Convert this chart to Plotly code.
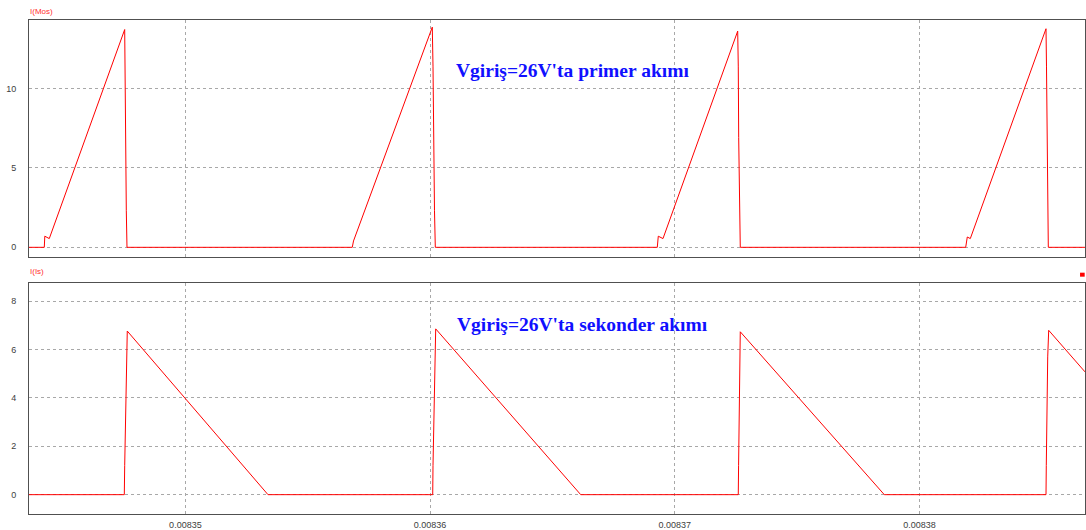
import plotly.graph_objects as go

# ---- data (time in seconds, current in A) ----
t_primary = [0.008343608, 0.008344233, 0.008344254, 0.008344437, 0.008347519, 0.008347531,
             0.008347544, 0.008347585, 0.008347613,
             0.008356821, 0.008356871, 0.008360091, 0.008360120, 0.008360140, 0.008360181,
             0.008360214,
             0.008369287, 0.008369328, 0.008369520, 0.008372573, 0.008372597, 0.008372614,
             0.008372655, 0.008372679,
             0.008381892, 0.008381957, 0.008382080, 0.008385174, 0.008385194, 0.008385215,
             0.008385256, 0.008385268, 0.008386768]
i_primary = [0, 0, 0.7, 0.55, 13.7, 11.4,
             6.9, 2.3, 0,
             0, 0.4, 13.85, 11.4, 6.9, 2.3,
             0,
             0, 0.7, 0.55, 13.6, 11.4, 6.9,
             2.3, 0,
             0, 0.65, 0.55, 13.75, 11.4, 6.9,
             2.3, 0, 0]

t_secondary = [0.008343608, 0.008347503, 0.008347519, 0.008347560, 0.008347593, 0.008347625,
               0.008353376,
               0.008360108, 0.008360120, 0.008360153, 0.008360189, 0.008360230, 0.008366157,
               0.008372597, 0.008372610, 0.008372634, 0.008372659, 0.008372679, 0.008378565,
               0.008385174, 0.008385186, 0.008385207, 0.008385244, 0.008385284, 0.008386768]
i_secondary = [0, 0, 1.2, 3.5, 5.7, 6.77,
               0,
               0, 1.2, 3.5, 5.7, 6.86, 0,
               0, 1.2, 3.5, 5.7, 6.74, 0,
               0, 1.2, 3.5, 5.7, 6.8, 5.08]

x_ticks = [0.00835, 0.00836, 0.00837, 0.00838]
x_tick_labels = ["0.00835", "0.00836", "0.00837", "0.00838"]
y1_ticks = [0, 5, 10]
y2_ticks = [0, 2, 4, 6, 8]

x_range = [0.008343608, 0.008386768]
y1_range = [-0.61, 14.3]
y2_range = [-0.80, 8.77]

title_top = "Vgiriş=26V'ta primer akımı"
title_bottom = "Vgiriş=26V'ta sekonder akımı"
label_top = "I(Mos)"
label_bottom = "I(Is)"

RED = "#ff0000"
GRID = "#a8a8a8"
FRAME = "#505050"
TICKFONT = dict(family="Liberation Sans, Arial, sans-serif", size=9, color="#404040")

fig = go.Figure()
fig.add_trace(go.Scatter(x=t_primary, y=i_primary, mode="lines",
                         line=dict(color=RED, width=1), xaxis="x", yaxis="y",
                         showlegend=False, hoverinfo="skip"))
fig.add_trace(go.Scatter(x=t_secondary, y=i_secondary, mode="lines",
                         line=dict(color=RED, width=1), xaxis="x2", yaxis="y2",
                         showlegend=False, hoverinfo="skip"))

axis_common = dict(showline=True, mirror=True, linecolor=FRAME, linewidth=1,
                   showgrid=True, gridcolor=GRID, griddash="3px,3px", gridwidth=1,
                   zeroline=False, ticks="", tickfont=TICKFONT)

fig.update_layout(
    width=1086, height=530,
    margin=dict(l=29, r=1, t=20, b=16),
    paper_bgcolor="white", plot_bgcolor="white",
    showlegend=False,
    xaxis=dict(domain=[0, 1], anchor="y", range=x_range, tickvals=x_ticks,
               showticklabels=False, **axis_common),
    yaxis=dict(domain=[0.5202, 1], anchor="x", range=y1_range, tickvals=y1_ticks,
               ticklabelstandoff=10, **axis_common),
    xaxis2=dict(domain=[0, 1], anchor="y2", range=x_range, tickvals=x_ticks,
                ticktext=x_tick_labels, ticklabelstandoff=2, **axis_common),
    yaxis2=dict(domain=[0, 0.4682], anchor="x2", range=y2_range, tickvals=y2_ticks,
                ticklabelstandoff=10, **axis_common),
)

ann_font = dict(family="Liberation Serif, Times New Roman, serif", size=19.5, color="#1010ff")
fig.add_annotation(text="<b>" + title_top + "</b>", xref="paper", yref="paper",
                   x=0.5147, y=0.8968, xanchor="center", yanchor="middle",
                   showarrow=False, font=ann_font)
fig.add_annotation(text="<b>" + title_bottom + "</b>", xref="paper", yref="paper",
                   x=0.5239, y=0.3846, xanchor="center", yanchor="middle",
                   showarrow=False, font=ann_font)

lbl_font = dict(family="Liberation Sans, Arial, sans-serif", size=8, color="#ff3030")
fig.add_annotation(text=label_top, xref="paper", yref="paper", x=-0.001, y=1.018,
                   xanchor="left", yanchor="middle", showarrow=False, font=lbl_font)
fig.add_annotation(text=label_bottom, xref="paper", yref="paper", x=-0.001, y=0.4899,
                   xanchor="left", yanchor="middle", showarrow=False, font=lbl_font)

# small legend marker at top right of lower panel
fig.add_shape(type="rect", xref="paper", yref="paper", x0=0.9953, x1=0.9997,
              y0=0.4804, y1=0.4885, fillcolor=RED, line=dict(width=0))

fig.write_html("out.html", config={"displayModeBar": False},
               post_script="document.body.style.margin='0';document.body.style.overflow='hidden';")
